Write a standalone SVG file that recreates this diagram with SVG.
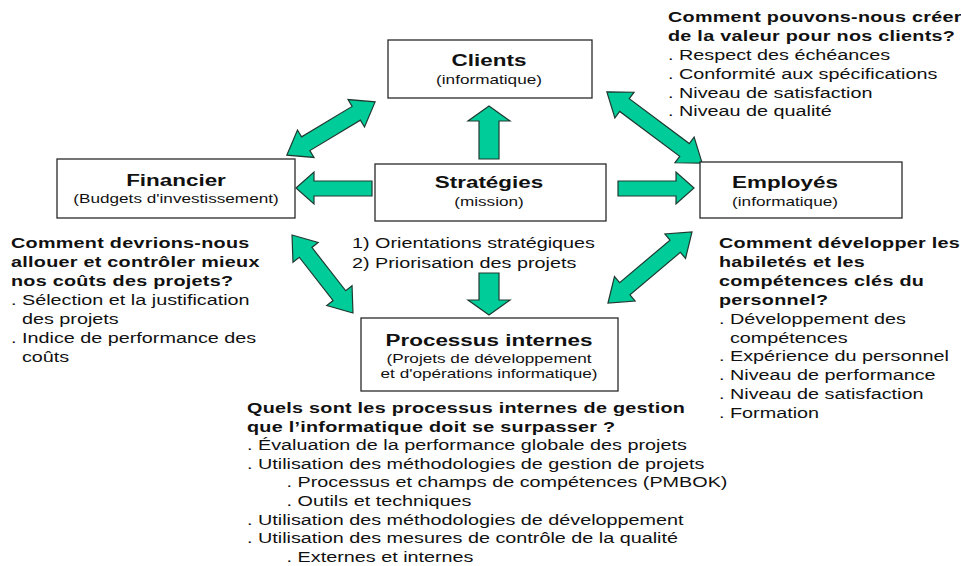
<svg xmlns="http://www.w3.org/2000/svg" width="961" height="566" viewBox="0 0 961 566">
  <style>
    .box { fill: #ffffff; stroke: #2a2a2a; stroke-width: 1.3; }
    .arr { fill: #00cc99; stroke: #1e3a30; stroke-width: 1.2; stroke-linejoin: miter; }
    .t { font-family: "Liberation Sans", Arial, sans-serif; fill: #111111; }
    .b { font-weight: bold; letter-spacing: 0.2px; }
    .ttl { font-size: 17px; font-weight: bold; }
    .sub { font-size: 13px; }
    .txt { font-size: 15px; }
  </style>
  <rect width="961" height="566" fill="#ffffff"/>

  <!-- connectors -->
  <g id="connectors">
    <!-- Stratégies -> Clients -->
    <polygon class="arr" points="489,106 510,121 499,121 499,159 479,159 479,121 468,121"/>
    <!-- Stratégies -> Financier -->
    <polygon class="arr" points="296,188 314,172 314,181 372,181 372,196 314,196 314,204"/>
    <!-- Stratégies -> Employés -->
    <polygon class="arr" points="694,188 676,172 676,181 618,181 618,196 676,196 676,204"/>
    <!-- Stratégies -> Processus internes -->
    <polygon class="arr" points="489,315 510,300 499,300 499,273 479,273 479,300 468,300"/>
    <!-- Financier <-> Clients -->
    <polygon class="arr" transform="translate(331 128.5) rotate(-31.1)" points="-51.5,0 -29.5,-16 -29.5,-8 29.5,-8 29.5,-16 51.5,0 29.5,16 29.5,8 -29.5,8 -29.5,16"/>
    <!-- Clients <-> Employés -->
    <polygon class="arr" transform="translate(654.5 127.5) rotate(36.8)" points="-59.5,0 -37.5,-16 -37.5,-8 37.5,-8 37.5,-16 59.5,0 37.5,16 37.5,8 -37.5,8 -37.5,16"/>
    <!-- Financier <-> Processus internes -->
    <polygon class="arr" transform="translate(322.5 274) rotate(52)" points="-49.5,0 -27.5,-16 -27.5,-8 27.5,-8 27.5,-16 49.5,0 27.5,16 27.5,8 -27.5,8 -27.5,16"/>
    <!-- Employés <-> Processus internes -->
    <polygon class="arr" transform="translate(650 267.5) rotate(-40.2)" points="-55,0 -33,-16 -33,-8 33,-8 33,-16 55,0 33,16 33,8 -33,8 -33,16"/>
  </g>

  <!-- Clients -->
  <g id="clients">
    <rect class="box" x="388" y="40" width="204" height="58"/>
    <text class="t ttl" text-anchor="middle" transform="translate(489 66) scale(1.32 1)">Clients</text>
    <text class="t sub" text-anchor="middle" transform="translate(489 84) scale(1.32 1)">(informatique)</text>
  </g>

  <!-- Financier -->
  <g id="financier">
    <rect class="box" x="57" y="159" width="238" height="59"/>
    <text class="t ttl" text-anchor="middle" transform="translate(176 186) scale(1.32 1)">Financier</text>
    <text class="t sub" text-anchor="middle" transform="translate(176 203) scale(1.32 1)">(Budgets d'investissement)</text>
  </g>

  <!-- Stratégies -->
  <g id="strategies">
    <rect class="box" x="375" y="164" width="231" height="57"/>
    <text class="t ttl" text-anchor="middle" transform="translate(489 188) scale(1.32 1)">Stratégies</text>
    <text class="t sub" text-anchor="middle" transform="translate(489 206) scale(1.32 1)">(mission)</text>
    <g class="t txt" transform="translate(352 0) scale(1.32 1)">
      <text x="0" y="248">1) Orientations stratégiques</text>
      <text x="0" y="268">2) Priorisation des projets</text>
    </g>
  </g>

  <!-- Employés -->
  <g id="employes">
    <rect class="box" x="700" y="162" width="202" height="56"/>
    <text class="t ttl" text-anchor="middle" transform="translate(785 188) scale(1.32 1)">Employés</text>
    <text class="t sub" text-anchor="middle" transform="translate(785 206) scale(1.32 1)">(informatique)</text>
  </g>

  <!-- Processus internes -->
  <g id="processus">
    <rect class="box" x="361" y="318" width="257" height="73"/>
    <text class="t ttl" text-anchor="middle" transform="translate(489 346) scale(1.32 1)">Processus internes</text>
    <text class="t sub" text-anchor="middle" transform="translate(489 363) scale(1.32 1)">(Projets de développement</text>
    <text class="t sub" text-anchor="middle" transform="translate(489 378) scale(1.32 1)">et d'opérations informatique)</text>
  </g>

  <!-- Client questions -->
  <g id="clients-notes" class="t txt" transform="translate(668 0) scale(1.32 1)">
    <text class="b" x="0" y="22">Comment pouvons-nous créer</text>
    <text class="b" x="0" y="41">de la valeur pour nos clients?</text>
    <text x="0" y="60">. Respect des échéances</text>
    <text x="0" y="79">. Conformité aux spécifications</text>
    <text x="0" y="98">. Niveau de satisfaction</text>
    <text x="0" y="116">. Niveau de qualité</text>
  </g>

  <!-- Financier questions -->
  <g id="financier-notes" class="t txt" transform="translate(11 0) scale(1.32 1)">
    <text class="b" x="0" y="248">Comment devrions-nous</text>
    <text class="b" x="0" y="267">allouer et contrôler mieux</text>
    <text class="b" x="0" y="286">nos coûts des projets?</text>
    <text x="0" y="305">. Sélection et la justification</text>
    <text x="8.3" y="324">des projets</text>
    <text x="0" y="343">. Indice de performance des</text>
    <text x="8.3" y="362">coûts</text>
  </g>

  <!-- Employés questions -->
  <g id="employes-notes" class="t txt" transform="translate(719 0) scale(1.32 1)">
    <text class="b" x="0" y="248">Comment développer les</text>
    <text class="b" x="0" y="267">habiletés et les</text>
    <text class="b" x="0" y="286">compétences clés du</text>
    <text class="b" x="0" y="305">personnel?</text>
    <text x="0" y="324">. Développement des</text>
    <text x="8.3" y="343">compétences</text>
    <text x="0" y="361">. Expérience du personnel</text>
    <text x="0" y="380">. Niveau de performance</text>
    <text x="0" y="399">. Niveau de satisfaction</text>
    <text x="0" y="418">. Formation</text>
  </g>

  <!-- Processus questions -->
  <g id="processus-notes" class="t txt" transform="translate(247 0) scale(1.32 1)">
    <text class="b" x="0" y="413">Quels sont les processus internes de gestion</text>
    <text class="b" x="0" y="432">que l’informatique doit se surpasser ?</text>
    <text x="0" y="450">. Évaluation de la performance globale des projets</text>
    <text x="0" y="469">. Utilisation des méthodologies de gestion de projets</text>
    <text x="30" y="487">. Processus et champs de compétences (PMBOK)</text>
    <text x="30" y="506">. Outils et techniques</text>
    <text x="0" y="525">. Utilisation des méthodologies de développement</text>
    <text x="0" y="543">. Utilisation des mesures de contrôle de la qualité</text>
    <text x="30" y="562">. Externes et internes</text>
  </g>
</svg>
